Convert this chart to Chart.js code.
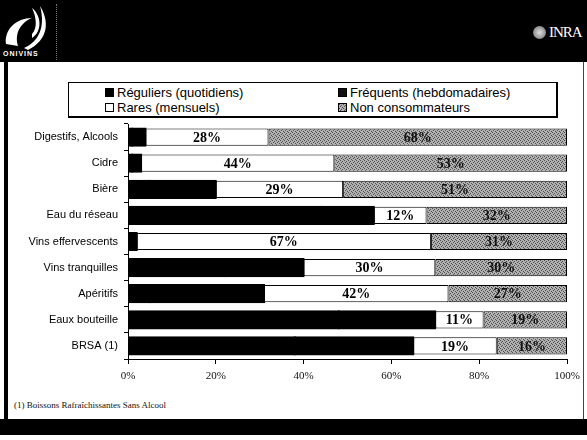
<!DOCTYPE html>
<html lang="fr">
<head>
<meta charset="utf-8">
<title>Fréquence de consommation des boissons</title>
<script src="https://cdn.jsdelivr.net/npm/chart.js@4.4.0/dist/chart.umd.min.js"></script>
<style>
    body { margin: 0; width: 587px; height: 440px; overflow: hidden; background: #fff; position: relative; font-family: "Liberation Sans", Arial, sans-serif; }
    #entete { position: absolute; left: 0; top: 0; width: 587px; height: 62px; background: #000; }
    #logoOni { position: absolute; left: 2px; top: 4px; }
    #oni { position: absolute; left: 3px; top: 50px; color: #fff; font: bold 7px "Liberation Sans", Arial, sans-serif; letter-spacing: 1px; }
    #sep { position: absolute; left: 56px; top: 4px; height: 56px; border-left: 1px dotted #777; }
    #inra { position: absolute; left: 549px; top: 24px; color: #fff; font: 15px "Liberation Serif", serif; letter-spacing: -1px; }
    #globe { position: absolute; left: 533px; top: 26px; width: 13px; height: 13px; border-radius: 50%; background: radial-gradient(circle, #ddd 0, #999 60%, #666 100%); }
    #bordG { position: absolute; left: 4px; top: 62px; width: 4px; height: 357px; background: #000; }
    #bordD { position: absolute; left: 583px; top: 62px; width: 1px; height: 357px; background: #444; }
    #pied { position: absolute; left: 0; top: 419px; width: 587px; height: 16px; background: #000; }
    #note { position: absolute; left: 14px; top: 400px; font: 9px "Liberation Serif", serif; color: #111; }
    #legende { position: absolute; left: 68px; top: 82px; width: 490px; height: 36px; border: 1px solid #000; border-right-width: 2px; border-bottom-width: 2px; box-sizing: border-box; }
    .item { position: absolute; font-size: 13px; line-height: 15px; color: #000; white-space: nowrap; }
    .marque { display: inline-block; width: 9px; height: 9px; margin-right: 3px; vertical-align: 0px; box-sizing: border-box; border: 1px solid #000; }
    canvas { position: absolute; left: 0; top: 0; }
</style>
</head>
<body>
<div id="entete">
    <svg id="logoOni" width="50" height="46" viewBox="0 0 50 46">
        <path d="M4 40 C 2 26, 14 14, 30 14 C 20 18, 12 28, 16 42 Z" fill="#fff"/>
        <path d="M22 44 C 36 38, 44 24, 38 2 C 48 18, 46 36, 26 46 Z" fill="#fff"/>
        <path d="M30 30 C 36 24, 34 12, 30 4 C 40 12, 40 28, 30 34 Z" fill="#fff"/>
    </svg>
    <div id="oni">ONIVINS</div>
    <div id="sep"></div>
    <div id="globe"></div>
    <div id="inra">INRA</div>
</div>
<div id="bordG"></div>
<div id="bordD"></div>
<div id="legende">
    <div class="item" style="left:36px;top:2px"><span class="marque" style="background:#000"></span>Réguliers (quotidiens)</div>
    <div class="item" style="left:269px;top:2px"><span class="marque" style="background:#111"></span>Fréquents (hebdomadaires)</div>
    <div class="item" style="left:36px;top:17px"><span class="marque" style="background:#fff"></span>Rares (mensuels)</div>
    <div class="item" style="left:269px;top:17px"><span class="marque" id="marqueNon"></span>Non consommateurs</div>
</div>
<div id="note">(1) Boissons Rafraîchissantes Sans Alcool</div>
<div id="pied"></div>
<canvas id="graphique" width="587" height="440"></canvas>

<script>
// Catégories de boissons (de haut en bas)
const boissons = ['Digestifs, Alcools', 'Cidre', 'Bière', 'Eau du réseau', 'Vins effervescents',
    'Vins tranquilles', 'Apéritifs', 'Eaux bouteille', 'BRSA (1)'];

// Pourcentages par fréquence (le scan rend Réguliers et Fréquents tous deux en noir : partage estimé)
const reguliers = [1, 1, 5, 44, 1, 22, 5, 48, 38];
const frequents = [3, 2, 15, 12, 1, 18, 26, 22, 27];
const rares = [28, 44, 29, 12, 67, 30, 42, 11, 19];
const nonConsommateurs = [68, 53, 51, 32, 31, 30, 27, 19, 16];

const graduations = [0, 20, 40, 60, 80, 100];

// Trame grise pointillée des non consommateurs
function creerTrame() {
    const c = document.createElement('canvas');
    c.width = 4; c.height = 4;
    const g = c.getContext('2d');
    g.fillStyle = '#b0b0b0';
    g.fillRect(0, 0, 4, 4);
    g.fillStyle = '#505050';
    [[0, 0], [2, 1], [1, 2], [3, 3]].forEach(p => g.fillRect(p[0], p[1], 1, 1));
    return c;
}
const trameCanvas = creerTrame();
document.getElementById('marqueNon').style.background = 'url(' + trameCanvas.toDataURL() + ')';

const ctx = document.getElementById('graphique').getContext('2d');
const trame = ctx.createPattern(trameCanvas, 'repeat');

// Étiquettes des pourcentages au centre des segments Rares et Non consommateurs
const etiquettes = {
    id: 'etiquettes',
    afterDatasetsDraw(chart) {
        const c = chart.ctx;
        c.save();
        c.font = 'bold 14px "Liberation Serif", serif';
        c.textAlign = 'center';
        c.textBaseline = 'middle';
        [2, 3].forEach(i => {
            const meta = chart.getDatasetMeta(i);
            meta.data.forEach((barre, j) => {
                const p = barre.getProps(['x', 'y', 'base'], true);
                c.fillStyle = i === 2 ? '#000' : '#111';
                c.fillText(chart.data.datasets[i].data[j] + '%', (p.x + p.base) / 2, p.y + 1);
            });
        });
        c.restore();
    }
};

function serie(nom, valeurs, couleur, gonfle) {
    return {
        label: nom,
        data: valeurs,
        backgroundColor: couleur,
        borderColor: '#000',
        borderWidth: 1,
        borderSkipped: false,
        inflateAmount: gonfle,
        barPercentage: 0.66,
        categoryPercentage: 1
    };
}

new Chart(ctx, {
    type: 'bar',
    data: {
        labels: boissons,
        datasets: [
            serie('Réguliers (quotidiens)', reguliers, '#000', 1),
            serie('Fréquents (hebdomadaires)', frequents, '#000', 1),
            serie('Rares (mensuels)', rares, '#fff', 0),
            serie('Non consommateurs', nonConsommateurs, trame, 0)
        ]
    },
    options: {
        indexAxis: 'y',
        responsive: false,
        animation: false,
        layout: { padding: { left: 0, right: 20, top: 124, bottom: 51 } },
        plugins: {
            legend: { display: false },
            tooltip: { enabled: false }
        },
        scales: {
            x: {
                stacked: true,
                min: 0,
                max: 100,
                afterBuildTicks: axe => { axe.ticks = graduations.map(v => ({ value: v })); },
                afterFit: axe => { axe.height = 30; },
                border: { color: '#000', width: 1 },
                grid: { drawOnChartArea: false, color: '#000', tickLength: 5 },
                ticks: {
                    color: '#111',
                    padding: 6,
                    maxRotation: 0,
                    font: { family: '"Liberation Serif", serif', size: 11 },
                    callback: v => v + '%'
                }
            },
            y: {
                stacked: true,
                afterFit: axe => { axe.width = 128; },
                border: { color: '#000', width: 1 },
                grid: { drawOnChartArea: false, color: '#000', tickLength: 4 },
                ticks: {
                    color: '#000',
                    padding: 6,
                    font: { family: '"Liberation Sans", Arial, sans-serif', size: 11 }
                }
            }
        }
    },
    plugins: [etiquettes]
});
</script>
</body>
</html>
